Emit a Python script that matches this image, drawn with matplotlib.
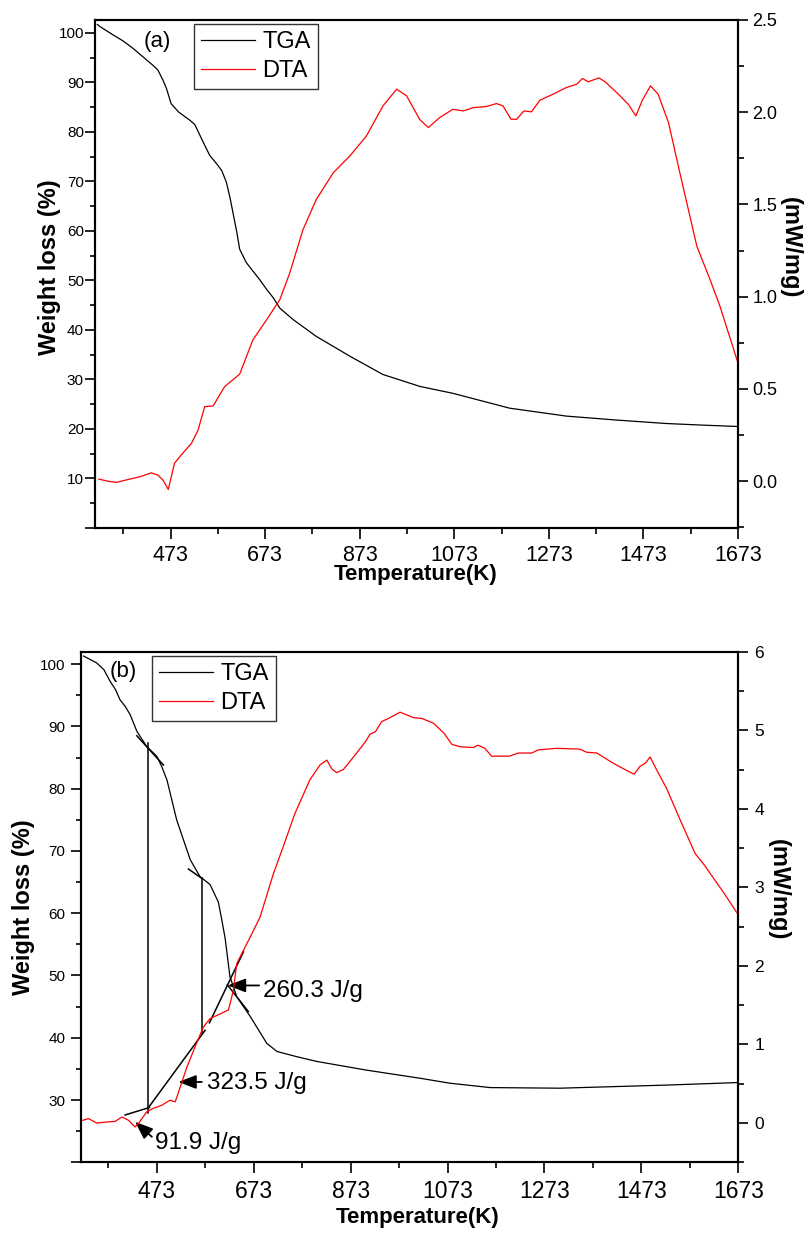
import numpy as np
import matplotlib
matplotlib.use('Agg')
import matplotlib.pyplot as plt
from matplotlib.ticker import MultipleLocator, FixedLocator

plt.rcParams['font.family'] = ['Liberation Sans', 'DejaVu Sans']

# ---- panel (a) ----
tga_a_T = [318, 323, 351, 372, 393, 414, 435, 446, 457, 464, 474, 490, 513, 524, 535, 545, 556,
           570, 581, 591, 599, 606, 613, 619, 633, 661, 676, 690, 704, 732, 781, 852, 922, 958,
           1000, 1070, 1190, 1310, 1416, 1522, 1593, 1673]
tga_a_W = [101.7, 101.3, 99.6, 98.4, 96.9, 95.2, 93.5, 92.5, 90.4, 88.8, 85.7, 84.0, 82.4, 81.5,
           79.3, 77.3, 75.2, 73.6, 72.2, 69.8, 66.5, 63.1, 59.7, 56.3, 53.6, 50.2, 48.2, 46.5, 44.4,
           42.1, 38.7, 34.7, 31.0, 29.9, 28.6, 27.2, 24.2, 22.6, 21.8, 21.1, 20.8, 20.5]

dta_a_T = [321, 340, 358, 386, 407, 432, 446, 457, 468, 481, 492, 517, 531, 545, 563, 587, 619, 647,
           676, 704, 725, 753, 781, 817, 852, 887, 922, 951, 972, 1000, 1018, 1042, 1070, 1092, 1113,
           1141, 1162, 1176, 1193, 1205, 1220, 1236, 1254, 1282, 1310, 1332, 1344, 1356, 1379, 1392,
           1420, 1441, 1457, 1471, 1488, 1504, 1526, 1550, 1586, 1614, 1635, 1673]
dta_a_D = [0.011, 0.0, -0.007, 0.011, 0.023, 0.045, 0.033, 0.005, -0.045, 0.096, 0.132, 0.205, 0.277,
           0.404, 0.408, 0.512, 0.58, 0.766, 0.875, 0.984, 1.129, 1.364, 1.527, 1.672, 1.763, 1.871,
           2.034, 2.125, 2.089, 1.96, 1.917, 1.971, 2.016, 2.007, 2.025, 2.031, 2.047, 2.034, 1.962,
           1.962, 2.007, 2.002, 2.065, 2.098, 2.134, 2.152, 2.183, 2.165, 2.186, 2.165, 2.098, 2.043,
           1.98, 2.067, 2.143, 2.098, 1.944, 1.672, 1.273, 1.092, 0.947, 0.64]

# ---- panel (b) ----
tga_b_T = [322, 349, 364, 377, 388, 397, 408, 418, 432, 452, 473, 483, 494, 504, 514, 528, 542, 562,
           583, 600, 607, 614, 624, 638, 666, 700, 721, 760, 803, 906, 1016, 1078, 1161, 1305, 1525, 1670]
tga_b_W = [101.3, 100.2, 99.1, 97.2, 95.9, 94.3, 93.2, 91.9, 89.2, 86.8, 85.2, 83.6, 81.4, 78.2,
           75.0, 71.8, 68.6, 65.9, 64.6, 61.8, 59.0, 56.0, 49.8, 46.6, 43.4, 39.1, 37.8, 37.0, 36.2,
           34.8, 33.5, 32.7, 32.0, 31.9, 32.4, 32.8]

dta_b_T = [320, 332, 349, 370, 387, 401, 415, 428, 435, 452, 463, 483, 500, 511, 521, 535, 552, 569,
           583, 604, 621, 631, 638, 652, 666, 686, 700, 714, 734, 758, 789, 810, 824, 834, 844, 858,
           879, 903, 913, 924, 937, 951, 975, 1003, 1020, 1044, 1066, 1082, 1099, 1126, 1136, 1150,
           1164, 1200, 1219, 1247, 1260, 1298, 1346, 1360, 1381, 1415, 1436, 1458, 1470, 1481, 1491,
           1505, 1525, 1553, 1584, 1601, 1642, 1673]
dta_b_D = [0.034, 0.056, 0.0, 0.013, 0.02, 0.077, 0.034, -0.05, -0.008, 0.14, 0.18, 0.225, 0.29, 0.27,
           0.45, 0.71, 0.97, 1.22, 1.33, 1.39, 1.44, 1.69, 2.03, 2.2, 2.37, 2.62, 2.9, 3.18, 3.52, 3.94,
           4.37, 4.56, 4.62, 4.51, 4.46, 4.5, 4.66, 4.85, 4.95, 4.98, 5.11, 5.15, 5.23, 5.16, 5.15, 5.09,
           4.96, 4.82, 4.79, 4.78, 4.81, 4.77, 4.67, 4.67, 4.71, 4.71, 4.75, 4.77, 4.76, 4.72, 4.71,
           4.58, 4.51, 4.44, 4.54, 4.58, 4.66, 4.49, 4.26, 3.86, 3.43, 3.30, 2.94, 2.65]

# construction lines of (b), (T1, W1, T2, W2)
guides_b = [(431.8, 88.5, 486.7, 83.8),
            (455.7, 87.3, 455.7, 27.9),
            (538.3, 67.1, 566.0, 65.6),
            (567.2, 65.6, 567.2, 40.8),
            (407.7, 27.6, 457.8, 28.8),
            (457.8, 29.0, 572.7, 41.2),
            (581.6, 42.4, 651.8, 53.8),
            (618.7, 48.5, 662.0, 44.2)]

# enthalpy labels: text, text pos (T, W), arrow tail, arrow tip
heat_labels = ['260.3 J/g', '323.5 J/g', '91.9 J/g']
heat_text_pos = [(693, 46.5), (577.5, 31.7), (469.6, 22.2)]
heat_tail = [(684.2, 48.4), (566.0, 32.9), (462.8, 24.1)]
heat_tip = [(619.6, 48.4), (517.6, 32.9), (428.3, 26.5)]

x_major = [473, 673, 873, 1073, 1273, 1473, 1673]
x_minor = [373, 573, 773, 973, 1173, 1373, 1573]

fig = plt.figure(figsize=(8.08, 12.36), dpi=100)
ax_a = fig.add_axes([95/808, 1 - 528/1236, 643/808, 508/1236])
ax_b = fig.add_axes([80.7/808, 1 - 1162.3/1236, 657.6/808, 510.6/1236])


def style(ax, ax2, xsize, lsize, rsize, lpad, xpad, rpad):
    for sp in ax.spines.values():
        sp.set_linewidth(1.5)
    for sp in ax2.spines.values():
        sp.set_linewidth(1.5)
    ax.xaxis.set_major_locator(FixedLocator(x_major))
    ax.xaxis.set_minor_locator(FixedLocator(x_minor))
    ax.tick_params(axis='x', which='major', direction='out', length=8, width=1.2,
                   labelsize=xsize, pad=xpad, top=False)
    ax.tick_params(axis='x', which='minor', direction='out', length=4, width=1.2, top=False)
    ax.tick_params(axis='y', which='major', direction='out', length=7, width=1.2,
                   labelsize=lsize, pad=lpad, right=False)
    ax.tick_params(axis='y', which='minor', direction='out', length=3.5, width=1.2, right=False)
    ax2.tick_params(axis='y', which='major', direction='out', length=7.5, width=1.2,
                    labelsize=rsize, pad=rpad)
    ax2.tick_params(axis='y', which='minor', direction='out', length=4, width=1.2)


def add_legend(ax2, handles, anchor):
    leg = ax2.legend(handles, ['TGA', 'DTA'], loc='upper left', bbox_to_anchor=anchor,
                     fontsize=17, fancybox=False, edgecolor='#333333', framealpha=1,
                     handlelength=2.3, handletextpad=0.3, borderpad=0.3, labelspacing=0.3,
                     borderaxespad=0)
    leg.get_frame().set_linewidth(1.0)


# panel (a)
ax_a.set_xlim(313, 1673)
ax_a.set_ylim(0, 102.6)
l1, = ax_a.plot(tga_a_T, tga_a_W, color='black', lw=0.9)
ax2_a = ax_a.twinx()
ax2_a.set_ylim(-0.254, 2.5)
l2, = ax2_a.plot(dta_a_T, dta_a_D, color='#ff0000', lw=0.9)
ax_a.set_yticks(np.arange(0, 101, 10))
ax_a.set_yticklabels([''] + [str(v) for v in range(10, 101, 10)])
ax_a.yaxis.set_minor_locator(MultipleLocator(5))
ax2_a.set_yticks([0.0, 0.5, 1.0, 1.5, 2.0, 2.5])
ax2_a.set_yticklabels(['0.0', '0.5', '1.0', '1.5', '2.0', '2.5'])
ax2_a.yaxis.set_minor_locator(MultipleLocator(0.25))
style(ax_a, ax2_a, 15.5, 11, 13, 1, 4, 3)
ax_a.text(0.076, 0.957, '(a)', transform=ax_a.transAxes, fontsize=16, va='center', ha='left')
add_legend(ax2_a, [l1, l2], (0.154, 0.992))
ax_a.set_xlabel('Temperature(K)', fontsize=16, fontweight='bold', va='center')
ax_a.xaxis.set_label_coords(0.498, -0.0925)
ax_a.set_ylabel('Weight loss (%)', fontsize=17, fontweight='bold', va='center')
ax_a.yaxis.set_label_coords(-0.0715, 0.514)
ax2_a.set_ylabel('(mW/mg)', fontsize=17, fontweight='bold', rotation=270, va='center')
ax2_a.yaxis.set_label_coords(1.082, 0.551)

# panel (b)
ax_b.set_xlim(316, 1673)
ax_b.set_ylim(20, 102)
m1, = ax_b.plot(tga_b_T, tga_b_W, color='black', lw=0.9)
for t1, w1, t2, w2 in guides_b:
    ax_b.plot([t1, t2], [w1, w2], color='black', lw=1.1)
ax2_b = ax_b.twinx()
ax2_b.set_ylim(-0.5, 6)
m2, = ax2_b.plot(dta_b_T, dta_b_D, color='#ff0000', lw=0.9)
ax_b.set_yticks(np.arange(20, 101, 10))
ax_b.set_yticklabels([''] + [str(v) for v in range(30, 101, 10)])
ax_b.yaxis.set_minor_locator(MultipleLocator(5))
ax2_b.set_yticks([0, 1, 2, 3, 4, 5, 6])
ax2_b.yaxis.set_minor_locator(MultipleLocator(0.5))
style(ax_b, ax2_b, 16.5, 11, 12.5, 4, 5, 4)
ax_b.text(0.0446, 0.961, '(b)', transform=ax_b.transAxes, fontsize=16, va='center', ha='left')
for lab, tp, tail, tip in zip(heat_labels, heat_text_pos, heat_tail, heat_tip):
    ax_b.annotate('', xy=tip, xytext=tail,
                  arrowprops=dict(arrowstyle='-|>,head_length=0.9,head_width=0.35',
                                  color='black', lw=1.3, mutation_scale=12,
                                  shrinkA=0, shrinkB=0))
    ax_b.text(tp[0], tp[1], lab, fontsize=17.5, ha='left', va='baseline')
add_legend(ax2_b, [m1, m2], (0.1084, 0.992))
ax_b.set_xlabel('Temperature(K)', fontsize=16, fontweight='bold', va='center')
ax_b.xaxis.set_label_coords(0.512, -0.108)
ax_b.set_ylabel('Weight loss (%)', fontsize=17, fontweight='bold', va='center')
ax_b.yaxis.set_label_coords(-0.0877, 0.5)
ax2_b.set_ylabel('(mW/mg)', fontsize=17, fontweight='bold', rotation=270, va='center')
ax2_b.yaxis.set_label_coords(1.0604, 0.533)

fig.savefig('out.png', dpi=100)
